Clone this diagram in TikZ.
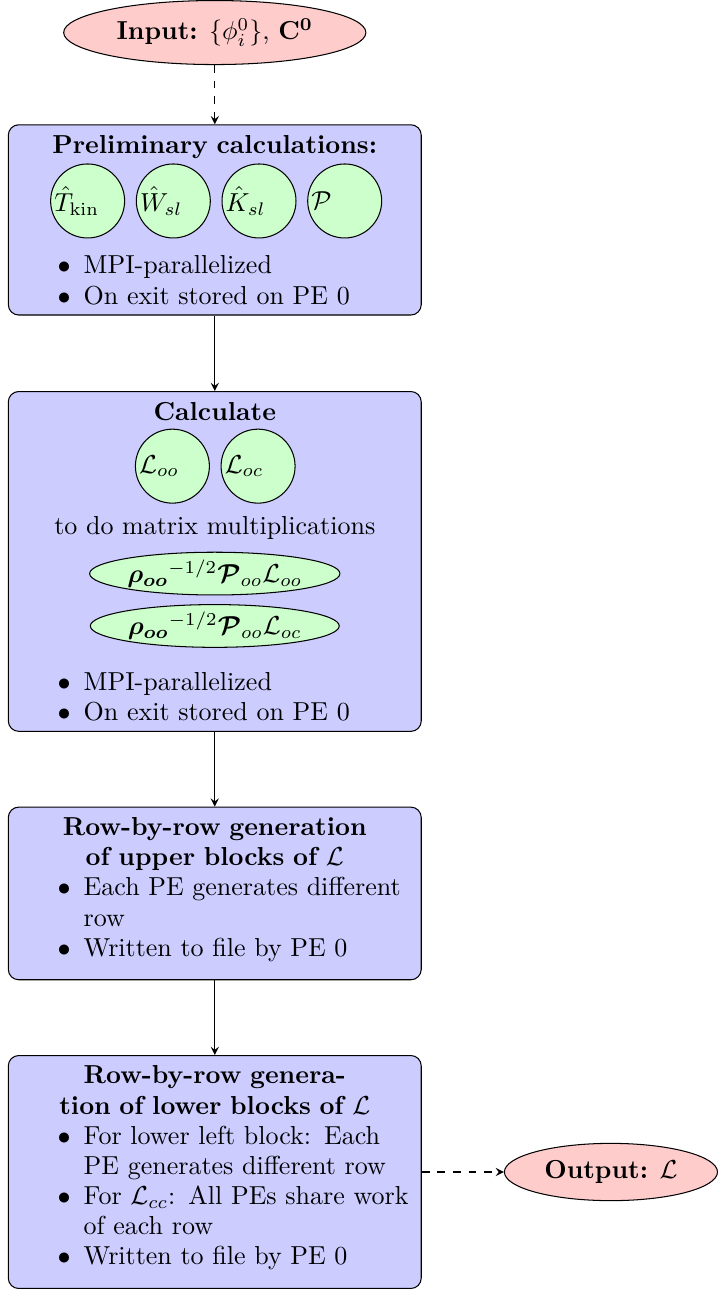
\documentclass[tikz,border=0pt]{standalone}
\usepackage{amsmath}
\usepackage{bm}
\usetikzlibrary{shapes.geometric,positioning}

% bullet list with no extra vertical space
\newenvironment{pelist}{\begin{list}{$\bullet$}{\setlength{\leftmargin}{25pt}\setlength{\labelwidth}{20pt}\setlength{\labelsep}{5pt}\setlength{\topsep}{0pt}\setlength{\partopsep}{0pt}\setlength{\itemsep}{0pt}\setlength{\parsep}{0pt}}}{\end{list}}

\begin{document}
\begin{tikzpicture}[]
      \newcommand{\boxwd}[0]{ 5.3cm }
      \tikzstyle{sedge} = [->,>=stealth,draw=black]
      \tikzstyle{dedge} = [->,>=stealth,dashed,draw=black]
      \tikzstyle{pbox} = [rectangle,rounded corners,draw=black,fill=blue!20,text width=\boxwd,inner sep=4pt,align=left,font=\fontsize{10pt}{11.6pt}\selectfont]
      \tikzstyle{opcirc} = [circle,draw=black,fill=green!20,minimum size=1cm,text width=0.9cm,inner sep=0pt]
      \tikzstyle{opell} = [ellipse,draw=black,fill=green!20,inner sep=0.4pt]
      \tikzstyle{ioell} = [ellipse,draw=black,fill=red!20]

      \node[ioell] (in) {\textbf{Input:} $\{\phi_i^0\}$, $\mathbf{C^0}$};
      \node[pbox, below=0.8cm of in] (pre) {{\centering\bfseries Preliminary calculations:\par}
        \vspace{34.8pt}
        \begin{pelist}
          \item MPI-parallelized
          \item On exit stored on PE 0
        \end{pelist}};
      \node[pbox, below=1.02cm of pre] (mult) {{\centering\bfseries Calculate\par}
        \vspace{32.6pt}
        {\centering to do matrix multiplications\par}
        \vspace{48.1pt}
        \begin{pelist}
          \item MPI-parallelized
          \item On exit stored on PE 0
        \end{pelist}};
      \node[pbox, below=1.01cm of mult] (upper) {{\centering\bfseries Row-by-row generation\\of upper blocks of $\mathcal{L}$\par}
        \begin{pelist}
          \item Each PE generates different\newline row
          \item Written to file by PE 0
        \end{pelist}
        \par\vspace{3pt}\hrule height 0pt};
      \node[pbox, below=1.01cm of upper] (lower) {{\centering\bfseries Row-by-row genera-\\tion of lower blocks of $\mathcal{L}$\par}
        \begin{pelist}
          \item For lower left block: Each\newline PE generates different row
          \item For $\mathcal{L}_{cc}$: All PEs share work\newline of each row
          \item Written to file by PE 0
        \end{pelist}
        \par\vspace{3pt}\hrule height 0pt};
      \node[ioell, right=1.11cm of lower] (out) {\textbf{Output:} $\mathcal{L}$};

      % operators inside the boxes
      \node[opcirc] (tkin) at ([xshift=-48.9pt,yshift=-29.5pt]pre.north) {$\hat{T}_{\mathrm{kin}}$};
      \node[opcirc, right=4.1pt of tkin] (wsl) {$\hat{W}_{sl}$};
      \node[opcirc, right=4.1pt of wsl] (ksl) {$\hat{K}_{sl}$};
      \node[opcirc, right=4.1pt of ksl] (proj) {$\mathcal{P}$};
      \node[opcirc] (loo) at ([xshift=-16.3pt,yshift=-28.9pt]mult.north) {$\mathcal{L}_{oo}$};
      \node[opcirc, right=4.1pt of loo] (loc) {$\mathcal{L}_{oc}$};
      \node[opell, below=61.8pt of mult.north] (mmoo) {${\bm{\rho_{oo}}}^{-1/2}\bm{\mathcal{P}}_{oo}\mathcal{L}_{oo}$};
      \node[opell, below=3.3pt of mmoo] (mmoc) {${\bm{\rho_{oo}}}^{-1/2}\bm{\mathcal{P}}_{oo}\mathcal{L}_{oc}$};

      \draw[dedge] (in) -- (pre);
      \draw[sedge] (pre) -- (mult);
      \draw[sedge] (mult) -- (upper);
      \draw[sedge] (upper) -- (lower);
      \draw[dedge] (lower) -- (out);

      \pgfresetboundingbox
      \coordinate (lft) at ([xshift=-3pt]pre.west);
      \path[use as bounding box] (lft |- in.north) rectangle (out.east |- lower.south);
    \end{tikzpicture}
\end{document}
